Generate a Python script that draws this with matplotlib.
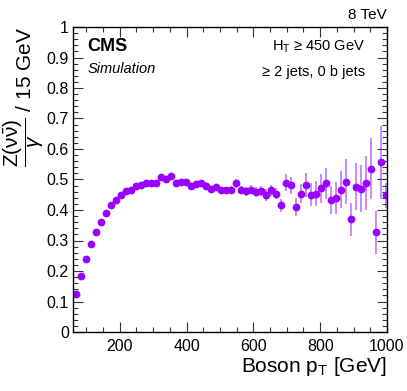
import numpy as np
import matplotlib
matplotlib.use("Agg")
import matplotlib.pyplot as plt
from matplotlib.ticker import MultipleLocator, FuncFormatter

plt.rcParams["font.family"] = ["Liberation Sans", "DejaVu Sans"]
plt.rcParams["mathtext.fontset"] = "custom"
plt.rcParams["mathtext.rm"] = "Liberation Sans"
plt.rcParams["mathtext.it"] = "Liberation Sans:italic"

# bin centres of the 15 GeV boson pT bins
pt = np.arange(67.5, 1000, 15)

ratio = [
    0.125, 0.182, 0.239, 0.288, 0.328, 0.362, 0.390, 0.415, 0.434, 0.448,
    0.461, 0.465, 0.478, 0.482, 0.490, 0.490, 0.488, 0.508, 0.501, 0.510,
    0.487, 0.491, 0.491, 0.480, 0.484, 0.489, 0.480, 0.468, 0.474, 0.465,
    0.465, 0.465, 0.487, 0.465, 0.462, 0.467, 0.460, 0.462, 0.449, 0.465,
    0.454, 0.415, 0.489, 0.481, 0.410, 0.453, 0.483, 0.450, 0.453, 0.471,
    0.488, 0.434, 0.439, 0.467, 0.493, 0.370, 0.477, 0.469, 0.489, 0.535,
    0.327, 0.556, 0.448,
]

err = [
    0.003, 0.003, 0.003, 0.004, 0.004, 0.004, 0.004, 0.005, 0.005, 0.005,
    0.005, 0.006, 0.006, 0.006, 0.007, 0.007, 0.007, 0.008, 0.008, 0.008,
    0.009, 0.009, 0.009, 0.010, 0.010, 0.010, 0.011, 0.011, 0.012, 0.012,
    0.012, 0.013, 0.014, 0.014, 0.015, 0.015, 0.016, 0.017, 0.019, 0.018,
    0.019, 0.022, 0.028, 0.028, 0.029, 0.031, 0.039, 0.037, 0.041, 0.047,
    0.051, 0.046, 0.052, 0.061, 0.073, 0.054, 0.076, 0.077, 0.088, 0.100,
    0.070, 0.120, 0.040,
]

color = "#9900ff"

fig = plt.figure(figsize=(4.07, 3.91), dpi=100)
ax = fig.add_axes([73 / 407, 1 - 332 / 391, 314 / 407, 305 / 391])

ax.errorbar(pt, ratio, yerr=err, fmt="none", ecolor=color, elinewidth=1.2,
            alpha=0.55, capsize=0)
ax.plot(pt, ratio, "o", color=color, markersize=5.6, markeredgewidth=0)

ax.set_xlim(60, 1000)
ax.set_ylim(0, 1)
ax.xaxis.set_major_locator(MultipleLocator(200))
ax.xaxis.set_minor_locator(MultipleLocator(50))
ax.yaxis.set_major_locator(MultipleLocator(0.1))
ax.yaxis.set_minor_locator(MultipleLocator(0.02))
ax.yaxis.set_major_formatter(FuncFormatter(lambda v, p: "{:g}".format(round(v, 2))))

ax.tick_params(which="both", direction="in", top=True, right=True, labelsize=11.5,
               width=0.8, color="#333333")
ax.tick_params(which="major", length=7)
ax.tick_params(which="minor", length=3.5)
ax.tick_params(axis="x", pad=5)
ax.tick_params(axis="y", pad=3)
for s in ax.spines.values():
    s.set_linewidth(1.0)

ax.set_xlabel(r"Boson p$_\mathrm{T}$ [GeV]", fontsize=15, loc="right", labelpad=1)
ax.set_ylabel(r"$\dfrac{\mathrm{Z(\nu\bar{\nu})}}{\gamma}$ / 15 GeV", fontsize=15,
              loc="top", labelpad=0)

ax.text(1.0, 1.015, "8 TeV", transform=ax.transAxes, ha="right", va="bottom",
        fontsize=11)
ax.text(0.045, 0.935, "CMS", transform=ax.transAxes, ha="left", va="center",
        fontsize=13, fontweight="bold")
ax.text(0.045, 0.862, "Simulation", transform=ax.transAxes, ha="left",
        va="center", fontsize=10.5, style="italic")
ax.text(0.93, 0.935, r"H$_\mathrm{T}$ ≥ 450 GeV", transform=ax.transAxes,
        ha="right", va="center", fontsize=10.5)
ax.text(0.93, 0.852, "≥ 2 jets, 0 b jets", transform=ax.transAxes, ha="right",
        va="center", fontsize=10.5)

fig.savefig("out.png", dpi=100)
